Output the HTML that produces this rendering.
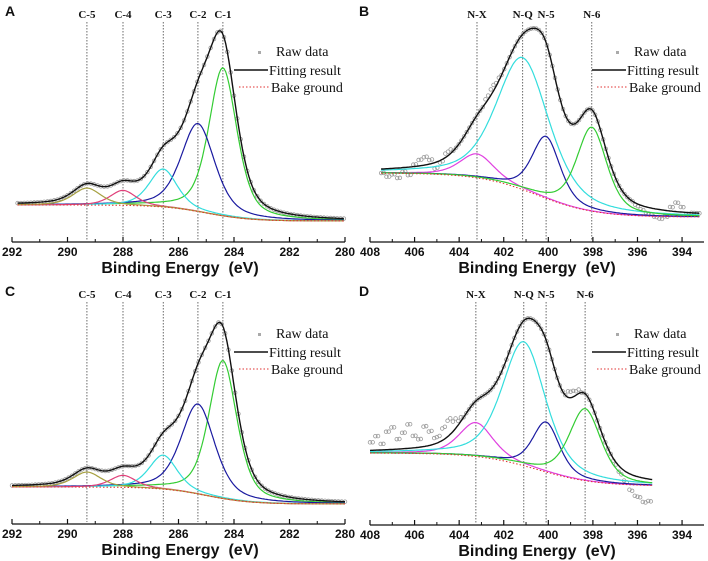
<!DOCTYPE html>
<html><head><meta charset="utf-8">
<style>
html,body{margin:0;padding:0;background:#fff;}
svg{display:block;}
.tl{font-family:"Liberation Sans",sans-serif;font-weight:bold;font-size:12px;fill:#111;}
.at{font-family:"Liberation Sans",sans-serif;font-weight:bold;font-size:16px;fill:#111;}
.pl{font-family:"Liberation Serif",serif;font-weight:bold;font-size:11px;fill:#111;}
.lg{font-family:"Liberation Serif",serif;font-size:14px;fill:#111;}
.let{font-family:"Liberation Sans",sans-serif;font-weight:bold;font-size:14px;fill:#111;}
</style></head>
<body>
<svg id="chart" width="708" height="561" viewBox="0 0 708 561" xmlns="http://www.w3.org/2000/svg"></svg>
<script>
// ---------- Panel A (C 1s) ----------
const peakLabelsA = ["C-1","C-2","C-3","C-4","C-5"];
const peakCentersA = [284.4, 285.3, 286.55, 288.0, 289.3];
const peakHeightsA = [148, 88, 38, 15, 17];
const peakWidthsA = [0.6, 0.72, 0.6, 0.55, 0.6];
const bgA = [16, 285, 0.8];
const rangeA = [291.8, 280];
const devEA = [];
const devVA = [];
// ---------- Panel B (N 1s) ----------
const peakLabelsB = ["N-X","N-Q","N-5","N-6"];
const peakCentersB = [403.2, 401.15, 400.1, 398.05];
const peakHeightsB = [24, 132, 62, 84];
const peakWidthsB = [0.9, 1.4, 0.75, 0.8];
const bgB = [44, 400.5, 1.3];
const rangeB = [407.5, 393.2];
const devEB = [407.5,407.25,407,406.75,406.5,406.25,406,405.75,405.5,405.25,405,404.75,404.5,402.75,402.5,402.25,396,395.75,395.5,395.25,395,394.75,394.5,394.25,394,393.75];
const devVB = [-4,-8,-6,-10,-4,-8,2,6,8,4,-6,-2,4,4,6,3,-2,-4,-6,-8,-9,-6,4,9,5,-2];
// ---------- Panel C (C 1s) ----------
const peakLabelsC = ["C-1","C-2","C-3","C-4","C-5"];
const peakCentersC = [284.4, 285.3, 286.55, 288.0, 289.3];
const peakHeightsC = [138, 90, 34, 12, 15];
const peakWidthsC = [0.6, 0.72, 0.6, 0.55, 0.6];
const bgC = [17, 285, 0.8];
const rangeC = [292, 280];
const devEC = [];
const devVC = [];
// ---------- Panel D (N 1s) ----------
const peakLabelsD = ["N-X","N-Q","N-5","N-6"];
const peakCentersD = [403.25, 401.1, 400.1, 398.35];
const peakHeightsD = [34, 124, 50, 72];
const peakWidthsD = [0.9, 1.15, 0.72, 0.85];
const bgD = [33, 400.5, 1.3];
const rangeD = [408, 395.3];
const devED = [408,407.75,407.5,407.25,407,406.75,406.5,406.25,406,405.75,405.5,405.25,405,404.75,404.5,404.25,404,399,398.75,397,396.75,396.5,396.25,396,395.75,395.5,395.25];
const devVD = [8,14,6,18,22,10,16,24,12,8,20,14,6,12,16,10,4,6,4,-2,-6,-10,-16,-20,-24,-22,-16];

const ticksC = [292,290,288,286,284,282,280];
const ticksN = [408,406,404,402,400,398,396,394];
const colorsC = ["#33cc33","#1a1aa0","#33dddd","#e0407a","#a6a040"];
const colorsN = ["#e040e0","#33dddd","#1a1aa0","#33cc33"];

const NS = "http://www.w3.org/2000/svg";
const svg = document.getElementById("chart");
function mk(tag, attrs, parent){
  const e = document.createElementNS(NS, tag);
  for (const k in attrs) e.setAttribute(k, attrs[k]);
  (parent||svg).appendChild(e);
  return e;
}
function gl(d, hw){ const r = d/hw; return 0.5/(1+r*r) + 0.5*Math.exp(-Math.LN2*r*r); }

function drawPanel(p){
  const g = mk("g", {transform:"translate("+p.ox+","+p.oy+")"});
  
  
  const xs = e => p.x0 + (p.e0 - e) * p.k;
  const ys = v => p.base - v;
  const bg = e => p.bg[0] / (1 + Math.exp(-(e - p.bg[1]) / p.bg[2]));
  const comp = (i, e) => p.h[i] * gl(e - p.c[i], p.w[i]);
  const fit = e => { let s = bg(e); for (let i=0;i<p.c.length;i++) s += comp(i,e); return s; };
  const step = 0.06;
  const es = [];
  for (let e = p.range[0]; e >= p.range[1] - 1e-9; e -= step) es.push(e);

  const L = mk("text", {x:5, y:16, class:"let"}, g); L.textContent = p.letter;
  
  

  for (let i=0;i<p.c.length;i++){
    const x = xs(p.c[i]);
    const ln = mk("line", {x1:x, x2:x, y1:22, y2:p.axisY-2, stroke:"#444", "stroke-width":0.8, "stroke-dasharray":"1.5,1.5"}, g);
    
    
    const t = mk("text", {x:x, y:18, class:"pl", "text-anchor":"middle"}, g); t.textContent = p.labels[i];
    
    
  }

  const rawG = mk("g", {fill:"none", stroke:"#9a9a9a", "stroke-width":0.8}, g);
  
  
  for (let e = p.range[0]; e >= p.range[1] - 1e-9; e -= 0.12){
    let dv = 0, best = 0.14;
    for (let j=0;j<p.devE.length;j++){ const d = Math.abs(p.devE[j]-e); if (d < best){ best = d; dv = p.devV[j]; } }
    const c = mk("circle", {cx:xs(e), cy:ys(fit(e)+dv), r:1.8}, rawG);
    
    
  }

  for (let i=0;i<p.c.length;i++){
    const d = es.map((e,j)=>(j?"L":"M")+xs(e).toFixed(1)+","+ys(bg(e)+comp(i,e)).toFixed(1)).join("");
    const pa = mk("path", {d:d, fill:"none", stroke:p.colors[i], "stroke-width":1.2}, g);
    
    
  }
  const fd = es.map((e,j)=>(j?"L":"M")+xs(e).toFixed(1)+","+ys(fit(e)).toFixed(1)).join("");
  const fp = mk("path", {d:fd, fill:"none", stroke:"#111", "stroke-width":1.4}, g);
  
  
  const bd = es.map((e,j)=>(j?"L":"M")+xs(e).toFixed(1)+","+ys(bg(e)).toFixed(1)).join("");
  const bp = mk("path", {d:bd, fill:"none", stroke:"#e03030", "stroke-width":1, "stroke-dasharray":"1.5,2"}, g);
  
  

  const ax = mk("line", {x1:p.axX0, x2:p.axX1, y1:p.axisY, y2:p.axisY, stroke:"#111", "stroke-width":1.2}, g);
  
  
  for (let i=0;i<p.ticks.length;i++){
    const v = p.ticks[i], x = xs(v);
    const tk = mk("line", {x1:x, x2:x, y1:p.axisY-5, y2:p.axisY, stroke:"#111", "stroke-width":1.2}, g);
    
    
    const tl = mk("text", {x:x, y:p.axisY+14, class:"tl", "text-anchor":"middle"}, g); tl.textContent = v;
    
    
    const mv = v - 1, mx = xs(mv);
    if (mx < p.axX1 - 1) {
      const mt = mk("line", {x1:mx, x2:mx, y1:p.axisY-3, y2:p.axisY, stroke:"#111", "stroke-width":1}, g);
      
      
    }
  }
  const at = mk("text", {x:p.titleX, y:p.axisY+31, class:"at", "text-anchor":"middle"}, g);
  at.textContent = "Binding Energy \u00a0(eV)";
  
  

  const lg = mk("g", {}, g);
  
  
  const lx = p.legX, ly = p.legY;
  const m = mk("rect", {x:lx-18, y:ly-5, width:3, height:3, fill:"#aaa"}, lg);
  
  
  const t1 = mk("text", {x:lx, y:ly, class:"lg"}, lg); t1.textContent = "Raw data";
  
  
  const l2 = mk("line", {x1:lx-42, x2:lx-8, y1:ly+14, y2:ly+14, stroke:"#111", "stroke-width":1.5}, lg);
  
  
  const t2 = mk("text", {x:lx-7, y:ly+19, class:"lg"}, lg); t2.textContent = "Fitting result";
  
  
  const l3 = mk("line", {x1:lx-37, x2:lx-6, y1:ly+31, y2:ly+31, stroke:"#e03030", "stroke-width":1, "stroke-dasharray":"1.5,2"}, lg);
  
  
  const t3 = mk("text", {x:lx-5, y:ly+36, class:"lg"}, lg); t3.textContent = "Bake ground";
  
  
}

drawPanel({letter:"A", ox:0, oy:0, x0:12, e0:292, k:27.75, base:221, axisY:242, axX0:12, axX1:345, titleX:180,
  c:peakCentersA, h:peakHeightsA, w:peakWidthsA, labels:peakLabelsA, colors:colorsC, bg:bgA, range:rangeA,
  devE:devEA, devV:devVA, ticks:ticksC, legX:276, legY:56});
drawPanel({letter:"B", ox:354, oy:0, x0:16, e0:408, k:22.29, base:217, axisY:242, axX0:16, axX1:350, titleX:183,
  c:peakCentersB, h:peakHeightsB, w:peakWidthsB, labels:peakLabelsB, colors:colorsN, bg:bgB, range:rangeB,
  devE:devEB, devV:devVB, ticks:ticksN, legX:280, legY:56});
drawPanel({letter:"C", ox:0, oy:280, x0:12, e0:292, k:27.75, base:224, axisY:244, axX0:12, axX1:345, titleX:180,
  c:peakCentersC, h:peakHeightsC, w:peakWidthsC, labels:peakLabelsC, colors:colorsC, bg:bgC, range:rangeC,
  devE:devEC, devV:devVC, ticks:ticksC, legX:276, legY:58});
drawPanel({letter:"D", ox:354, oy:280, x0:16, e0:408, k:22.29, base:206, axisY:245, axX0:16, axX1:350, titleX:183,
  c:peakCentersD, h:peakHeightsD, w:peakWidthsD, labels:peakLabelsD, colors:colorsN, bg:bgD, range:rangeD,
  devE:devED, devV:devVD, ticks:ticksN, legX:280, legY:58});
</script>
</body></html>
